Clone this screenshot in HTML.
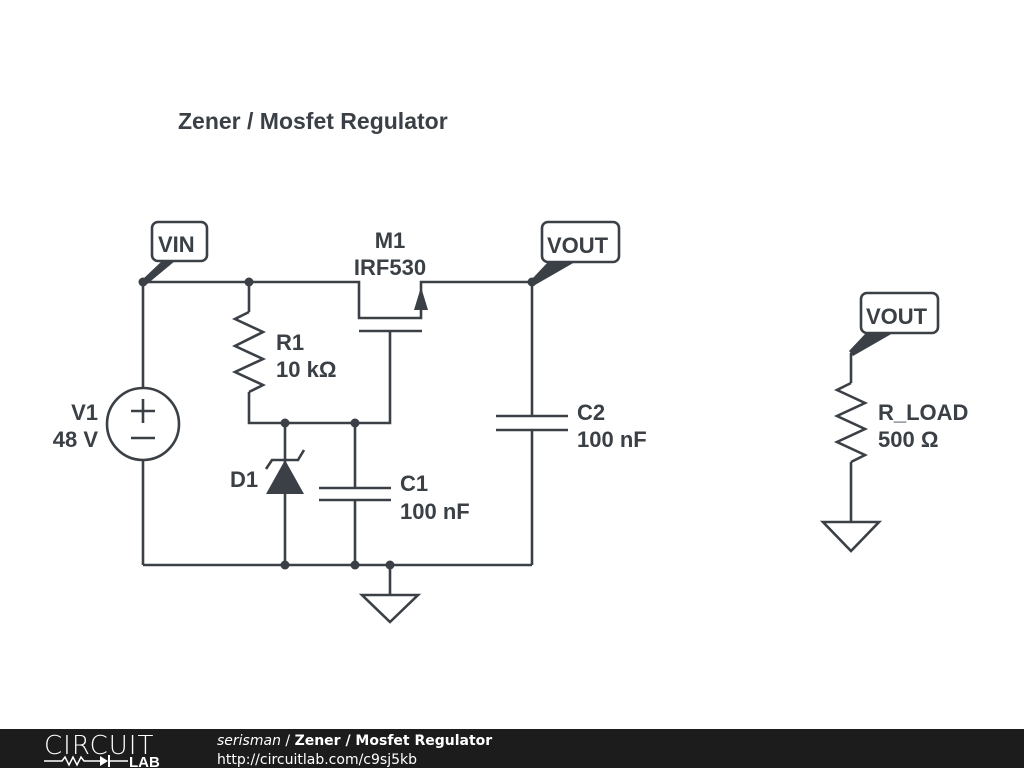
<!DOCTYPE html>
<html><head><meta charset="utf-8"><style>
body{margin:0;background:#fff;width:1024px;height:768px;overflow:hidden;font-family:"Liberation Sans",sans-serif}
svg{position:absolute;left:0;top:0}
</style></head><body>
<svg width="1024" height="768" viewBox="0 0 1024 768" xmlns="http://www.w3.org/2000/svg">
<g fill="none" stroke="#3a4045" stroke-width="2.6" stroke-linejoin="miter">
<polyline points="143,282 359,282 359,318 421,318 421,282 532,282"/>
<line x1="359" y1="331" x2="422" y2="331"/>
<polyline points="390,331 390,423 249,423 249,392"/>
<line x1="249" y1="282" x2="249" y2="312"/>
<polyline points="249,312 235,319 263,332 235,346 263,359 235,372 263,385 249,392"/>
<line x1="143" y1="282" x2="143" y2="388"/>
<circle cx="143" cy="424" r="36"/>
<line x1="143" y1="460" x2="143" y2="565"/>
<line x1="131" y1="411" x2="155" y2="411"/><line x1="143" y1="399" x2="143" y2="423"/>
<line x1="131" y1="438" x2="155" y2="438"/>
<line x1="143" y1="565" x2="532" y2="565"/>
<line x1="285" y1="423" x2="285" y2="565"/>
<polyline points="266,469 272,460 298,460 304,450"/>
<line x1="355" y1="423" x2="355" y2="488"/><line x1="355" y1="500" x2="355" y2="565"/>
<line x1="319" y1="488" x2="391" y2="488"/><line x1="319" y1="500" x2="391" y2="500"/>
<line x1="532" y1="282" x2="532" y2="416"/><line x1="532" y1="430" x2="532" y2="565"/>
<line x1="496" y1="416" x2="568" y2="416"/><line x1="496" y1="430" x2="568" y2="430"/>
<line x1="390" y1="565" x2="390" y2="595"/>
<polygon points="362,595 418,595 390,622"/>
<rect x="152" y="222" width="55" height="39" rx="6"/>
<rect x="542" y="222" width="77" height="40" rx="6"/>
<rect x="861" y="293" width="77" height="40" rx="6"/>
<line x1="851" y1="353" x2="851" y2="383"/>
<polyline points="851,383 837,390 865,403 837,416 865,429 837,442 865,455 851,462"/>
<line x1="851" y1="462" x2="851" y2="522"/>
<polygon points="823,522 879,522 851,551"/>
</g>
<g fill="#3a4045" stroke="none">
<polygon points="421,287 414,310 428,310"/>
<polygon points="285,460 266,494 304,494"/>
<polygon points="143,279 146,285 175,261 162,261"/>
<polygon points="532,279 535,285 575,262 548,262"/>
<polygon points="849,351 853,356 893,333 866,333"/>
<circle cx="143" cy="282" r="4.5"/><circle cx="249" cy="282" r="4.5"/><circle cx="532" cy="282" r="4.5"/>
<circle cx="285" cy="423" r="4.5"/><circle cx="355" cy="423" r="4.5"/>
<circle cx="285" cy="565" r="4.5"/><circle cx="355" cy="565" r="4.5"/><circle cx="390" cy="565" r="4.5"/>
</g>
<g fill="#3a4045" font-family="Liberation Sans, sans-serif" font-weight="bold" font-size="22">
<text x="178" y="129" font-size="23">Zener / Mosfet Regulator</text>
<text x="158" y="252">VIN</text>
<text x="547" y="253">VOUT</text>
<text x="866" y="324">VOUT</text>
<text x="390" y="248" text-anchor="middle">M1</text>
<text x="390" y="275" text-anchor="middle">IRF530</text>
<text x="276" y="350">R1</text>
<text x="276" y="377">10 kΩ</text>
<text x="98" y="420" text-anchor="end">V1</text>
<text x="98" y="447" text-anchor="end">48 V</text>
<text x="230" y="487">D1</text>
<text x="400" y="491">C1</text>
<text x="400" y="519">100 nF</text>
<text x="577" y="420">C2</text>
<text x="577" y="447">100 nF</text>
<text x="878" y="420">R_LOAD</text>
<text x="878" y="447">500 Ω</text>
</g>
<rect x="0" y="729" width="1024" height="39" fill="#1c1c1c"/>
<text x="44" y="754" fill="#fff" font-family="DejaVu Sans, sans-serif" font-size="26" font-weight="200" letter-spacing="1">CIRCUIT</text>
<polyline points="44,761 62,761 65,757 69,765 73,757 77,765 81,757 84,761 100,761" fill="none" stroke="#fff" stroke-width="1.5"/>
<polygon points="100,756 100,766 108,761" fill="#fff"/><line x1="109" y1="755" x2="109" y2="767" stroke="#fff" stroke-width="2"/>
<line x1="109" y1="761" x2="128" y2="761" stroke="#fff" stroke-width="1.5"/>
<text x="129" y="767" fill="#fff" font-family="Liberation Sans, sans-serif" font-size="15" font-weight="bold">LAB</text>
<text x="217" y="745" fill="#fff" font-family="DejaVu Sans, sans-serif" font-size="14"><tspan font-style="italic">serisman</tspan> / <tspan font-weight="bold">Zener / Mosfet Regulator</tspan></text>
<text x="217" y="764" fill="#fff" font-family="DejaVu Sans, sans-serif" font-size="14">http://circuitlab.com/c9sj5kb</text>
</svg>
</body></html>
